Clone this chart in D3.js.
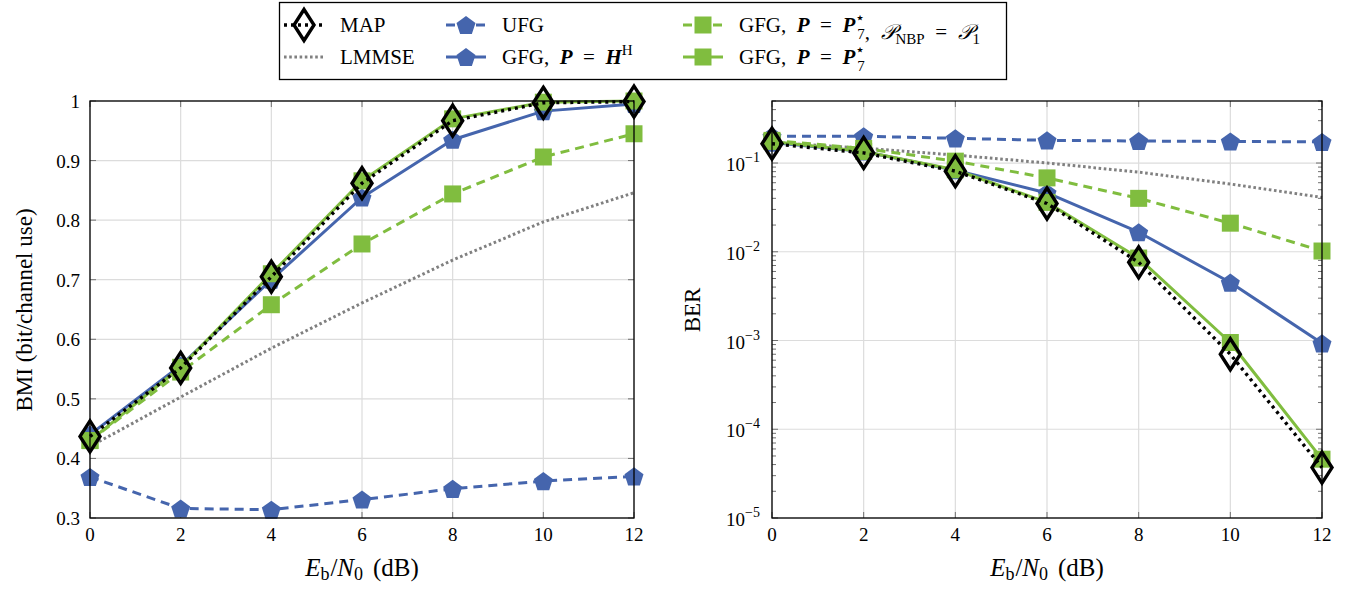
<!DOCTYPE html>
<html>
<head>
<meta charset="utf-8">
<script src="https://cdn.jsdelivr.net/npm/d3@7"></script>
<style>
  body { margin: 0; background: #fff; }
</style>
</head>
<body>
<script>
// data
var snr = [0, 2, 4, 6, 8, 10, 12]
var xTicks = [0, 2, 4, 6, 8, 10, 12]
var bmiTicks = [0.3, 0.4, 0.5, 0.6, 0.7, 0.8, 0.9, 1]
var berTicks = [1e-5, 1e-4, 1e-3, 1e-2, 1e-1]

var bmiUFG = [0.369, 0.316, 0.314, 0.331, 0.349, 0.362, 0.370]
var bmiLMMSE = [0.420, 0.503, 0.585, 0.661, 0.733, 0.797, 0.846]
var bmiGfgH = [0.440, 0.556, 0.700, 0.838, 0.935, 0.983, 0.995]
var bmiGfgNBP = [0.430, 0.545, 0.658, 0.760, 0.844, 0.906, 0.945]
var bmiGfgP = [0.430, 0.553, 0.710, 0.866, 0.970, 0.998, 1.000]
var bmiMAP = [0.437, 0.552, 0.705, 0.862, 0.967, 0.997, 0.999]

var berUFG = [0.200, 0.200, 0.190, 0.180, 0.177, 0.175, 0.173]
var berLMMSE = [0.170, 0.147, 0.123, 0.100, 0.079, 0.058, 0.041]
var berGfgH = [0.170, 0.135, 0.083, 0.046, 0.0166, 0.0045, 0.00093]
var berGfgNBP = [0.180, 0.146, 0.105, 0.068, 0.040, 0.021, 0.0102]
var berGfgP = [0.175, 0.135, 0.084, 0.036, 0.0085, 0.00095, 0.000046]
var berMAP = [0.165, 0.130, 0.081, 0.035, 0.0076, 0.0007, 0.000037]

var blue = "#4565ad", green = "#80bd3f", gray = "#808080"
var serif = "'Liberation Serif', 'Times New Roman', serif"

// drawing order: last one on top
var series = [
  { key: "UFG", color: blue, dash: "9,6", width: 3, marker: "pentagon" },
  { key: "LMMSE", color: gray, dash: "2.6,2.6", width: 3, marker: null },
  { key: "GfgH", color: blue, dash: null, width: 3, marker: "pentagon" },
  { key: "GfgNBP", color: green, dash: "9,6", width: 3, marker: "square" },
  { key: "GfgP", color: green, dash: null, width: 3, marker: "square" },
  { key: "MAP", color: "#000", dash: "3,4", width: 3.4, marker: "diamond" }
]
var bmiData = { UFG: bmiUFG, LMMSE: bmiLMMSE, GfgH: bmiGfgH, GfgNBP: bmiGfgNBP, GfgP: bmiGfgP, MAP: bmiMAP }
var berData = { UFG: berUFG, LMMSE: berLMMSE, GfgH: berGfgH, GfgNBP: berGfgNBP, GfgP: berGfgP, MAP: berMAP }

var W = 1347, H = 589
var svg = d3.select("body").append("svg").attr("width", W).attr("height", H)
  .attr("font-family", serif)

function markerPath(type) {
  if (type == "pentagon") {
    var r = 10, pts = []
    for (var i = 0; i < 5; i++) {
      var a = -Math.PI / 2 + i * 2 * Math.PI / 5
      pts.push([r * Math.cos(a), r * Math.sin(a) + 1])
    }
    return "M" + pts.join("L") + "Z"
  }
  if (type == "square") return "M-8.5,-8.5H8.5V8.5H-8.5Z"
  if (type == "diamond") return "M0,-15.5L10,0L0,15.5L-10,0Z"
  return ""
}

function drawMarker(g, type, color, x, y) {
  var p = g.append("path").attr("d", markerPath(type))
    .attr("transform", "translate(" + x + "," + y + ")")
  if (type == "diamond") p.attr("fill", "none").attr("stroke", "#000").attr("stroke-width", 3.4).attr("stroke-linejoin", "miter")
  else p.attr("fill", color)
}

function panel(x0, x1, y, data, isLog) {
  var top = 101, bottom = 518
  var x = d3.scaleLinear().domain([0, 12]).range([x0, x1])
  var g = svg.append("g")

  // grid
  g.selectAll(".gx").data(xTicks).enter().append("line")
    .attr("x1", function(d) { return x(d) }).attr("x2", function(d) { return x(d) })
    .attr("y1", top).attr("y2", bottom).attr("stroke", "#dcdcdc").attr("stroke-width", 1.2)
  var yt = isLog ? berTicks : bmiTicks
  g.selectAll(".gy").data(yt).enter().append("line")
    .attr("x1", x0).attr("x2", x1)
    .attr("y1", function(d) { return y(d) }).attr("y2", function(d) { return y(d) })
    .attr("stroke", "#dcdcdc").attr("stroke-width", 1.2)

  // inward ticks
  var tk = g.append("g").attr("stroke", "#707070").attr("stroke-width", 1)
  xTicks.forEach(function(d) {
    tk.append("line").attr("x1", x(d)).attr("x2", x(d)).attr("y1", bottom).attr("y2", bottom - 6)
    tk.append("line").attr("x1", x(d)).attr("x2", x(d)).attr("y1", top).attr("y2", top + 6)
  })
  yt.forEach(function(d) {
    tk.append("line").attr("x1", x0).attr("x2", x0 + 6).attr("y1", y(d)).attr("y2", y(d))
    tk.append("line").attr("x1", x1).attr("x2", x1 - 6).attr("y1", y(d)).attr("y2", y(d))
  })
  if (isLog) {
    for (var e = -5; e <= -1; e++) {
      for (var m = 2; m <= 9; m++) {
        var v = m * Math.pow(10, e)
        if (v > 0.5) continue
        tk.append("line").attr("x1", x0).attr("x2", x0 + 4).attr("y1", y(v)).attr("y2", y(v))
        tk.append("line").attr("x1", x1).attr("x2", x1 - 4).attr("y1", y(v)).attr("y2", y(v))
      }
    }
  }

  // lines and markers
  series.forEach(function(s) {
    var vals = data[s.key]
    var line = d3.line().x(function(d, i) { return x(snr[i]) }).y(function(d) { return y(d) })
    var p = g.append("path").datum(vals).attr("d", line)
      .attr("fill", "none").attr("stroke", s.color).attr("stroke-width", s.width)
      .attr("stroke-linejoin", "round")
    if (s.dash) p.attr("stroke-dasharray", s.dash)
    if (s.marker) vals.forEach(function(d, i) { drawMarker(g, s.marker, s.color, x(snr[i]), y(d)) })
  })

  // frame
  g.append("rect").attr("x", x0).attr("y", top).attr("width", x1 - x0).attr("height", bottom - top)
    .attr("fill", "none").attr("stroke", "#000").attr("stroke-width", 1.3)

  // x tick labels
  g.selectAll(".xl").data(xTicks).enter().append("text")
    .attr("x", function(d) { return x(d) }).attr("y", 541)
    .attr("text-anchor", "middle").attr("font-size", 19).text(function(d) { return d })

  // x label
  var xl = g.append("text").attr("x", (x0 + x1) / 2).attr("y", 576).attr("text-anchor", "middle").attr("font-size", 25)
  xl.append("tspan").attr("font-style", "italic").text("E")
  xl.append("tspan").attr("font-size", 18).attr("dy", 4).text("b")
  xl.append("tspan").attr("dy", -4).attr("dx", 1).text("/")
  xl.append("tspan").attr("font-style", "italic").text("N")
  xl.append("tspan").attr("font-size", 18).attr("dy", 4).text("0")
  xl.append("tspan").attr("dy", -4).attr("dx", 10).text("(dB)")
  return x
}

// left panel
var yBmi = d3.scaleLinear().domain([0.3, 1]).range([518, 101])
panel(90, 634, yBmi, bmiData, false)
svg.selectAll(".bl").data(bmiTicks).enter().append("text")
  .attr("x", 80).attr("y", function(d) { return yBmi(d) + 7 })
  .attr("text-anchor", "end").attr("font-size", 19)
  .text(function(d) { return d == 1 ? "1" : d3.format(".1f")(d) })
svg.append("text").attr("transform", "translate(32,310) rotate(-90)")
  .attr("text-anchor", "middle").attr("font-size", 23).text("BMI (bit/channel use)")

// right panel
var yBer = d3.scaleLog().domain([1e-5, 0.5]).range([518, 101])
panel(772, 1322, yBer, berData, true)
berTicks.forEach(function(d) {
  var t = svg.append("text").attr("x", 760).attr("y", yBer(d) + 8)
    .attr("text-anchor", "end").attr("font-size", 19)
  t.append("tspan").text("10")
  t.append("tspan").attr("font-size", 14).attr("dy", -9).text("\u2212" + Math.round(-Math.log10(d)))
})
svg.append("text").attr("transform", "translate(700,310) rotate(-90)")
  .attr("text-anchor", "middle").attr("font-size", 23).text("BER")

// legend
var lg = svg.append("g")
lg.append("rect").attr("x", 279.5).attr("y", 2.5).attr("width", 727).attr("height", 77)
  .attr("fill", "#fff").attr("stroke", "#000").attr("stroke-width", 1.3)

var legendItems = [
  { key: "MAP", col: 0, row: 0 },
  { key: "LMMSE", col: 0, row: 1 },
  { key: "UFG", col: 1, row: 0 },
  { key: "GfgH", col: 1, row: 1 },
  { key: "GfgNBP", col: 2, row: 0 },
  { key: "GfgP", col: 2, row: 1 }
]
var colX = [284, 446, 683]
var rowY = [25, 57]
var eq = "\u2002=\u2002"

function boldP(t, sub, sup) {
  t.append("tspan").attr("font-weight", "bold").attr("font-style", "italic").text("P")
  if (sub != null) {
    t.append("tspan").attr("font-size", 16).attr("dy", -9).text(sup)
    t.append("tspan").attr("font-size", 15).attr("dx", -8).attr("dy", 16).text(sub)
    t.append("tspan").attr("dy", -7).text("")
  }
}

legendItems.forEach(function(it) {
  var s = series.filter(function(d) { return d.key == it.key })[0]
  var lx = colX[it.col], ly = rowY[it.row]
  var ln = lg.append("line").attr("x1", lx).attr("x2", lx + 40).attr("y1", ly).attr("y2", ly)
    .attr("stroke", s.color).attr("stroke-width", s.width)
  if (s.dash) ln.attr("stroke-dasharray", s.dash)
  if (s.marker) drawMarker(lg, s.marker, s.color, lx + 20, ly)

  var t = lg.append("text").attr("x", lx + 56).attr("y", ly + 7).attr("font-size", 21)
  if (it.key == "MAP" || it.key == "LMMSE" || it.key == "UFG") t.text(it.key)
  else if (it.key == "GfgH") {
    t.append("tspan").text("GFG,\u2002")
    boldP(t)
    t.append("tspan").text(eq)
    t.append("tspan").attr("font-weight", "bold").attr("font-style", "italic").text("H")
    t.append("tspan").attr("font-size", 15).attr("dy", -9).text("H")
  } else {
    t.append("tspan").text("GFG,\u2002")
    boldP(t)
    t.append("tspan").text(eq)
    boldP(t, "7", "\u22c6")
    if (it.key == "GfgNBP") {
      t.append("tspan").text(",\u2002")
      t.append("tspan").attr("font-style", "italic").text("\ud835\udcab")
      t.append("tspan").attr("font-size", 15).attr("dy", 5).text("NBP")
      t.append("tspan").attr("dy", -5).text(eq)
      t.append("tspan").attr("font-style", "italic").text("\ud835\udcab")
      t.append("tspan").attr("font-size", 15).attr("dy", 5).text("1")
    }
  }
})
</script>
</body>
</html>
